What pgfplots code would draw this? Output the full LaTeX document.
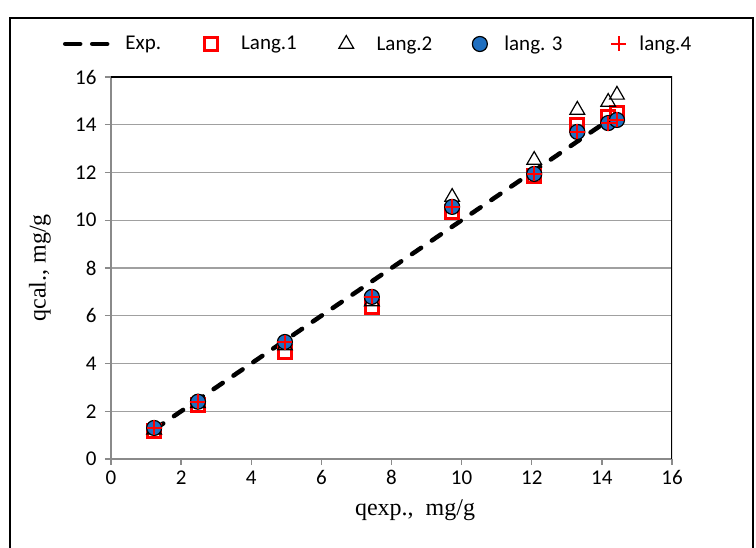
\documentclass[border=0pt]{standalone}
\usepackage{pgfplots}
\pgfplotsset{compat=1.18}
\usepackage{fontspec}
\setmainfont{Carlito}
\newfontfamily\timesfont{Liberation Serif}
\definecolor{gridgray}{HTML}{A0A0A0}
\definecolor{axgray}{HTML}{8A8A8A}
\definecolor{mblue}{HTML}{1F6FC0}
\pgfplotsset{explegend/.style={legend image code/.code={\draw[##1, dash pattern=on 15pt off 12pt] (0pt,0pt) -- (44pt,0pt);}}}
\pgfplotstableread{
x      l1     l2     l3
1.23   1.17   1.22   1.30
2.48   2.25   2.33   2.40
4.96   4.48   4.75   4.90
7.44   6.37   6.60   6.79
9.73   10.35  10.97  10.56
12.07  11.85  12.52  11.94
13.30  13.99  14.62  13.70
14.18  14.32  14.95  14.07
14.43  14.49  15.25  14.20
}\datatable
\begin{document}
\begin{tikzpicture}[x=1pt,y=1pt]
\useasboundingbox (0,0) rectangle (756,548);
\begin{scope}
\clip (0,0) rectangle (756,548);
\draw[line width=2.2pt] (10,530) rectangle (753,-20);
\end{scope}
\begin{axis}[at={(111pt,89pt)}, anchor=south west, scale only axis,
  width=561pt, height=382pt,
  xmin=0, xmax=16, ymin=0, ymax=16,
  xtick={0,2,...,16}, ytick={0,2,...,16},
  axis x line*=bottom, axis y line*=left,
  axis line style={axgray, line width=2.5pt, -},
  ymajorgrids, grid style={gridgray, line width=1.3pt},
  tick style={axgray, line width=1.3pt}, tick align=outside, major tick length=6pt,
  ticklabel style={font=\fontsize{21}{25}\selectfont},
  yticklabel style={xshift=-5pt},
  xticklabel style={yshift=-2pt},
  /pgf/number format/assume math mode=true,
  xlabel={\timesfont qexp.,\ \ mg/g}, ylabel={\timesfont qcal., mg/g},
  label style={font=\fontsize{24}{28}\selectfont},
  xlabel style={at={(axis description cs:0.542,-0.1335)}, anchor=center},
  ylabel style={at={(axis description cs:-0.1266,0.5)}, anchor=center},
  legend columns=5,
  legend style={draw=none, fill=none, inner sep=0pt, outer sep=0pt,
    at={(axis description cs:-0.0856,1.0864)}, anchor=west,
    font=\fontsize{21}{25}\selectfont,
    /tikz/column 1/.style={column sep=12pt},
    /tikz/column 2/.style={column sep=41pt},
    /tikz/column 3/.style={column sep=22pt},
    /tikz/column 4/.style={column sep=40pt},
    /tikz/column 5/.style={column sep=21pt},
    /tikz/column 6/.style={column sep=38pt},
    /tikz/column 7/.style={column sep=15pt},
    /tikz/column 8/.style={column sep=47pt},
    /tikz/column 9/.style={column sep=11pt}},
]
\addplot[black, line width=4.5pt, dash pattern=on 11pt off 13pt, line cap=round, explegend]
  table[x=x, y=x] {\datatable};
\addlegendentry{Exp.}
\addplot[only marks, mark=square, mark size=6.5pt, mark options={red, line width=2.8pt}]
  table[x=x, y=l1] {\datatable};
\addlegendentry{Lang.1}
\addplot[only marks, mark=triangle, mark size=8.5pt, mark options={black, line width=1.2pt}]
  table[x=x, y=l2] {\datatable};
\addlegendentry{Lang.2}
\addplot[only marks, mark=*, mark size=7.5pt, mark options={draw=black, fill=mblue, line width=1.2pt}]
  table[x=x, y=l3] {\datatable};
\addlegendentry{lang. 3}
\addplot[only marks, mark=+, mark size=7.5pt, mark options={red, line width=2pt}]
  table[x=x, y=l3] {\datatable};
\addlegendentry{lang.4}
\draw[black, line width=2pt] (rel axis cs:0,1) -- (rel axis cs:1,1) -- (rel axis cs:1,0);
\end{axis}
\end{tikzpicture}
\end{document}
